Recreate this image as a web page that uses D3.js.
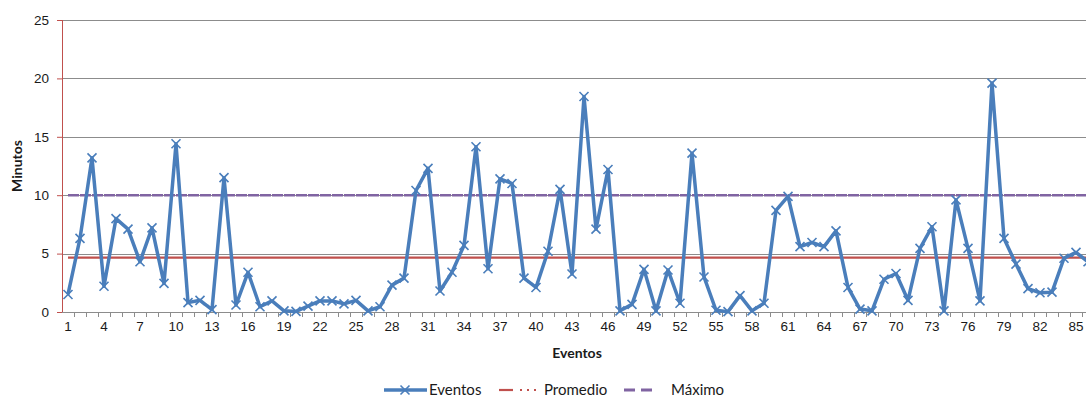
<!DOCTYPE html>
<html>
<head>
<meta charset="utf-8">
<script src="https://cdn.jsdelivr.net/npm/d3@7"></script>
<style>
  html, body { margin: 0; padding: 0; background: #fff; overflow: hidden; }
  svg { display: block; font-family: Lato, "Open Sans", sans-serif; }
</style>
</head>
<body>
<svg id="chart" width="1086" height="397"></svg>
<script>
// Minutes per event
const eventos = [
  1.5, 6.3, 13.2, 2.2, 8.0, 7.1, 4.3, 7.2, 2.45, 14.4,
  0.8, 1.0, 0.2, 11.5, 0.6, 3.4, 0.45, 0.95, 0.1, 0.05,
  0.5, 0.95, 0.95, 0.7, 1.0, 0.1, 0.45, 2.3, 2.9, 10.4,
  12.3, 1.8, 3.4, 5.7, 14.15, 3.7, 11.4, 11.0, 2.9, 2.1,
  5.2, 10.5, 3.25, 18.45, 7.1, 12.2, 0.1, 0.65, 3.65, 0.1,
  3.6, 0.75, 13.6, 3.0, 0.15, 0.03, 1.4, 0.1, 0.75, 8.7,
  9.9, 5.6, 5.95, 5.6, 6.95, 2.1, 0.25, 0.1, 2.8, 3.3,
  1.0, 5.45, 7.3, 0.1, 9.6, 5.45, 0.95, 19.6, 6.3, 4.1,
  2.0, 1.65, 1.7, 4.6, 5.1, 4.3
];
const promedio = 4.65;
const maximo = 10;
const yTicks = [0, 5, 10, 15, 20, 25];
const legendItems = ["Eventos", "Promedio", "Máximo"];

const categories = eventos.map((_, i) => i + 1);
const xTickLabels = categories.filter(c => (c - 1) % 3 === 0);

const svg = d3.select("#chart");
const plotLeft = 62, plotTop = 20, plotBottom = 312;
const bandW = 12;
const plotRight = plotLeft + bandW * categories.length;

const x = d3.scaleBand().domain(categories).range([plotLeft, plotRight]).padding(0);
const cx = c => x(c) + x.bandwidth() / 2;
const y = d3.scaleLinear().domain([0, 25]).range([plotBottom, plotTop]);

const blue = "#4a7ebb", red = "#c0504d", purple = "#8064a2";
const ink = "#1a1a1a";

// horizontal gridlines
svg.append("g").selectAll("line").data(yTicks.filter(t => t > 0)).join("line")
  .attr("x1", plotLeft).attr("x2", 1086)
  .attr("y1", d => Math.round(y(d)) + 0.5).attr("y2", d => Math.round(y(d)) + 0.5)
  .attr("stroke", "#8c8c8c").attr("stroke-width", 1);

// x axis
const xAxis = d3.axisBottom(x).tickValues(xTickLabels).tickSize(0).tickPadding(9);
const gx = svg.append("g").attr("transform", `translate(0,${plotBottom})`).call(xAxis);
gx.select(".domain").attr("stroke", "#8c8c8c").attr("d", `M${plotLeft},0.5H1086`);
gx.selectAll("text").attr("font-size", 13.5).attr("fill", ink);
// category boundary ticks
svg.append("g").selectAll("line").data(categories).join("line")
  .attr("x1", d => x(d) + bandW + 0.5).attr("x2", d => x(d) + bandW + 0.5)
  .attr("y1", plotBottom).attr("y2", plotBottom + 5)
  .attr("stroke", "#8c8c8c");

// y axis
const yAxis = d3.axisLeft(y).tickValues(yTicks).tickSize(5).tickPadding(8);
const gy = svg.append("g").attr("transform", `translate(${plotLeft},0)`).call(yAxis);
gy.select(".domain").attr("stroke", red).attr("d", `M0.5,${plotTop}V${plotBottom}`);
gy.selectAll(".tick line").attr("stroke", red);
gy.selectAll("text").attr("font-size", 13.5).attr("fill", ink);

// reference lines
const first = categories[0], last = categories[categories.length - 1];
svg.append("line")
  .attr("x1", cx(first)).attr("x2", cx(last))
  .attr("y1", y(promedio)).attr("y2", y(promedio))
  .attr("stroke", red).attr("stroke-width", 2.2);
svg.append("line")
  .attr("x1", cx(first)).attr("x2", cx(last))
  .attr("y1", y(maximo)).attr("y2", y(maximo))
  .attr("stroke", purple).attr("stroke-width", 2.6)
  .attr("stroke-dasharray", "11,1");

// events series
const line = d3.line().x((d, i) => cx(categories[i])).y(d => y(d));
svg.append("path").datum(eventos)
  .attr("d", line).attr("fill", "none")
  .attr("stroke", blue).attr("stroke-width", 3.5)
  .attr("stroke-linejoin", "round");

const m = 4.5;
svg.append("g").selectAll("path").data(eventos).join("path")
  .attr("d", (d, i) => {
    const px = cx(categories[i]), py = y(d);
    return `M${px - m},${py - m}L${px + m},${py + m}M${px - m},${py + m}L${px + m},${py - m}`;
  })
  .attr("stroke", blue).attr("stroke-width", 1.6).attr("fill", "none");

// axis titles
svg.append("text").attr("x", 577).attr("y", 358)
  .attr("text-anchor", "middle").attr("font-size", 14).attr("font-weight", "bold")
  .attr("fill", ink).text("Eventos");
svg.append("text").attr("transform", "translate(22,166) rotate(-90)")
  .attr("text-anchor", "middle").attr("font-size", 14).attr("font-weight", "bold")
  .attr("fill", ink).text("Minutos");

// legend
const ly = 390;
const lg = svg.append("g");
// Eventos
lg.append("line").attr("x1", 384).attr("x2", 427).attr("y1", ly).attr("y2", ly)
  .attr("stroke", blue).attr("stroke-width", 3.5);
lg.append("path").attr("d", `M${405 - m},${ly - m}L${405 + m},${ly + m}M${405 - m},${ly + m}L${405 + m},${ly - m}`)
  .attr("stroke", blue).attr("stroke-width", 1.6);
lg.append("text").attr("x", 429).attr("y", ly + 5).attr("font-size", 15).attr("fill", ink).text(legendItems[0]);
// Promedio
lg.append("line").attr("x1", 499).attr("x2", 513).attr("y1", ly).attr("y2", ly)
  .attr("stroke", red).attr("stroke-width", 2.2);
[520, 527, 534].forEach(px => lg.append("rect").attr("x", px).attr("y", ly - 1).attr("width", 2).attr("height", 2).attr("fill", red));
lg.append("text").attr("x", 544).attr("y", ly + 5).attr("font-size", 15).attr("fill", ink).text(legendItems[1]);
// Máximo
lg.append("line").attr("x1", 624).attr("x2", 658).attr("y1", ly).attr("y2", ly)
  .attr("stroke", purple).attr("stroke-width", 3).attr("stroke-dasharray", "11,6");
lg.append("text").attr("x", 671).attr("y", ly + 5).attr("font-size", 15).attr("fill", ink).text(legendItems[2]);
</script>
</body>
</html>
